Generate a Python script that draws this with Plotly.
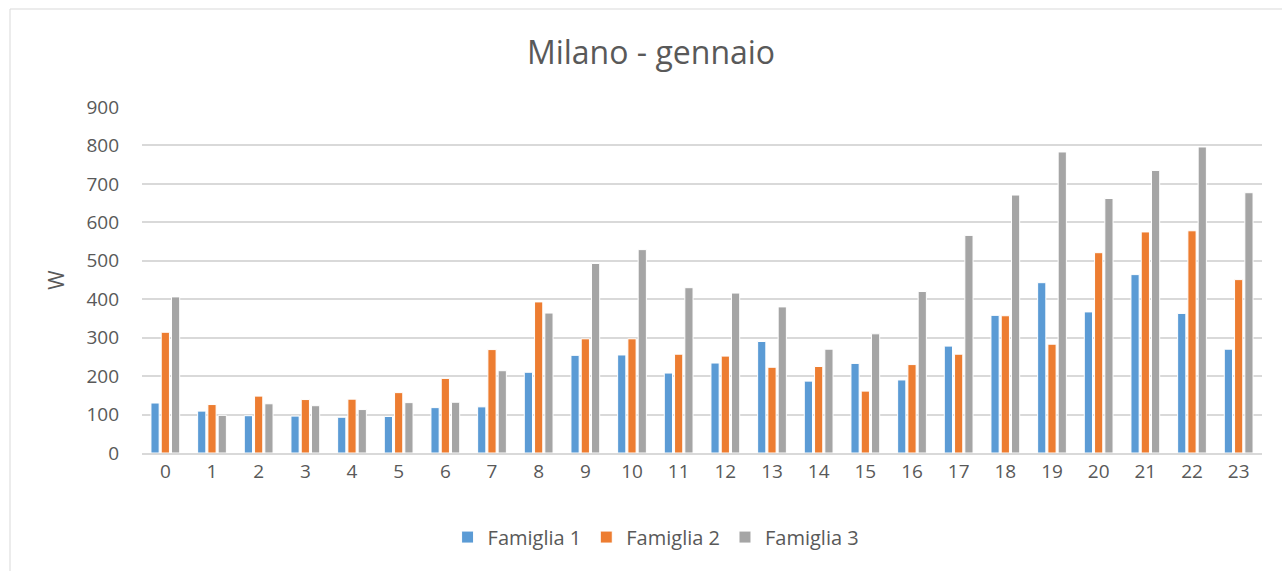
import plotly.graph_objects as go

hours = [str(h) for h in range(24)]
famiglia1 = [130, 109, 97, 96, 93, 95, 118, 120, 210, 254, 255, 208, 234, 290, 187, 233, 190, 278, 358, 443, 367, 464, 363, 270]
famiglia2 = [314, 126, 148, 139, 140, 157, 194, 269, 393, 297, 297, 257, 252, 223, 225, 161, 230, 257, 357, 283, 521, 575, 578, 451]
famiglia3 = [406, 98, 128, 123, 113, 131, 132, 214, 364, 493, 529, 430, 416, 380, 270, 310, 420, 566, 671, 783, 662, 735, 796, 677]

series = [("Famiglia 1", famiglia1, "#5B9BD5"),
          ("Famiglia 2", famiglia2, "#ED7D31"),
          ("Famiglia 3", famiglia3, "#A5A5A5")]

FONT = "Open Sans"
TXT = "#595959"

fig = go.Figure()
for name, vals, col in series:
    fig.add_trace(go.Bar(x=hours, y=vals, name=name, marker_color=col,
                         marker_line_color="white", marker_line_width=1))

fig.update_layout(
    width=1282, height=571,
    margin=dict(l=142, r=20, t=107, b=118),
    paper_bgcolor="white", plot_bgcolor="white",
    barmode="group", bargap=0.34, bargroupgap=0.2,
    font=dict(family=FONT, color=TXT, size=19),
    title=dict(text="Milano - gennaio", x=651 / 1282, xanchor="center", xref="container",
               y=1 - 53 / 571, yref="container", yanchor="middle",
               font=dict(size=32, color=TXT, family=FONT)),
    legend=dict(orientation="h", x=0.459, xanchor="center", y=-0.243, yanchor="middle",
                font=dict(size=20, color=TXT, family=FONT),
                traceorder="normal"),
    showlegend=True,
)
fig.update_yaxes(range=[0, 900], dtick=100, showgrid=True, gridcolor="#D9D9D9", gridwidth=1.5,
                 zeroline=False, showline=False, ticks="", tickfont=dict(size=19, color=TXT),
                 ticklabelstandoff=22,
                 title=dict(text="W", font=dict(size=21, color=TXT), standoff=16))
fig.update_xaxes(showline=True, linecolor="#D9D9D9", linewidth=1.5, ticks="",
                 tickfont=dict(size=19, color=TXT), ticklabelstandoff=0)

fig.add_shape(type="rect", xref="paper", yref="paper",
              x0=(10 - 142) / 1120, x1=1.3, y0=-0.6, y1=(453 - 9) / 346,
              line=dict(color="#D9D9D9", width=1), fillcolor="rgba(0,0,0,0)", layer="below")

fig.write_html("out.html", config={"displayModeBar": False},
               post_script="document.body.style.margin='0';")
